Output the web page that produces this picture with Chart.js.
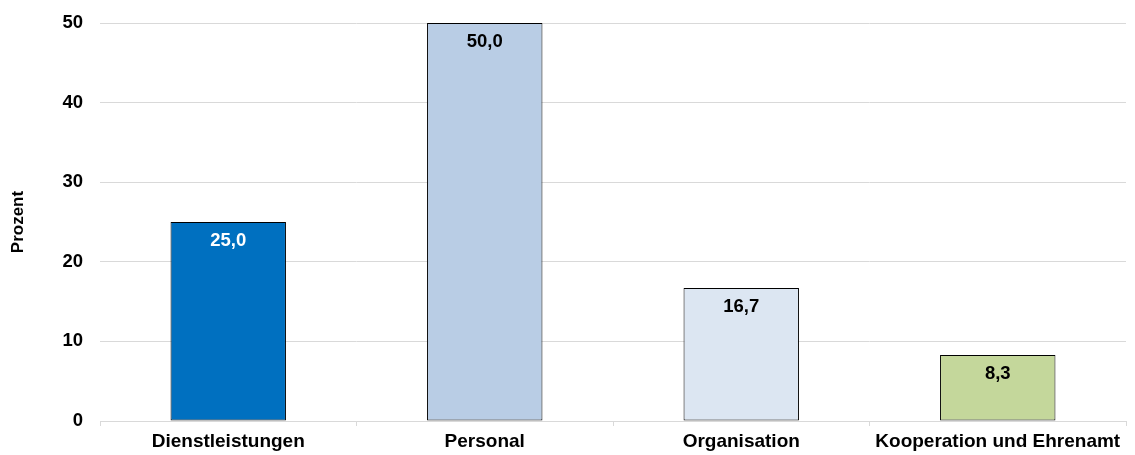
<!DOCTYPE html>
<html>
<head>
<meta charset="utf-8">
<script src="https://cdn.jsdelivr.net/npm/chart.js@4.4.1/dist/chart.umd.min.js"></script>
<style>
  html, body { margin: 0; padding: 0; background: #fff; }
  #wrap { width: 1135px; height: 455px; position: relative; }
</style>
</head>
<body>
<div id="wrap"><canvas id="c"></canvas></div>
<script>
  // data
  const categories = ['Dienstleistungen', 'Personal', 'Organisation', 'Kooperation und Ehrenamt'];
  const values = [25.0, 50.0, 16.7, 8.3];
  const barColors = ['#0070C0', '#B9CDE5', '#DCE6F2', '#C4D79B'];
  const labelColors = ['#ffffff', '#000000', '#000000', '#000000'];
  const yTicks = [0, 10, 20, 30, 40, 50];

  const FONT = '"Liberation Sans", Arial, sans-serif';

  // value labels inside the top of each bar
  const barLabels = {
    id: 'barLabels',
    afterDatasetsDraw(chart) {
      const ctx = chart.ctx;
      const meta = chart.getDatasetMeta(0);
      ctx.save();
      ctx.font = 'bold 18.5px ' + FONT;
      ctx.textAlign = 'center';
      ctx.textBaseline = 'middle';
      meta.data.forEach((bar, i) => {
        ctx.fillStyle = labelColors[i];
        ctx.fillText(values[i].toFixed(1).replace('.', ','), bar.x, bar.y + 19);
      });
      ctx.restore();
    }
  };

  new Chart(document.getElementById('c').getContext('2d'), {
    type: 'bar',
    data: {
      labels: categories,
      datasets: [{
        data: values,
        backgroundColor: barColors,
        borderColor: '#000',
        borderWidth: 1,
        borderSkipped: false,
        categoryPercentage: 1,
        barPercentage: 0.45,
      }],
    },
    options: {
      responsive: true, maintainAspectRatio: false, animation: false,
      layout: { padding: { top: 23, right: 9, left: 0, bottom: 0 } },
      plugins: { legend: { display: false }, tooltip: { enabled: false } },
      scales: {
        x: {
          grid: { display: true, drawOnChartArea: false, color: '#d9d9d9', tickLength: 5, offset: true },
          border: { color: '#d9d9d9', width: 1 },
          ticks: { color: '#000', font: { family: FONT, size: 19, weight: 'bold' }, padding: 4, maxRotation: 0 },
          afterFit: s => { s.height = 34; s.paddingLeft = 0; s.paddingRight = 0; },
        },
        y: {
          min: 0, max: 50,
          afterBuildTicks: s => { s.ticks = yTicks.map(v => ({ value: v })); },
          grid: { color: '#d9d9d9', drawTicks: false },
          border: { display: false },
          ticks: { color: '#000', font: { family: FONT, size: 18.5, weight: 'bold' }, padding: 17 },
          title: { display: true, text: 'Prozent', color: '#000', font: { family: FONT, size: 17, weight: 'bold' }, padding: { top: 8, bottom: 0 } },
          afterFit: s => { s.width = 100; s.paddingTop = 0; s.paddingBottom = 0; },
        },
      },
    },
    plugins: [barLabels],
  });
</script>
</body>
</html>
